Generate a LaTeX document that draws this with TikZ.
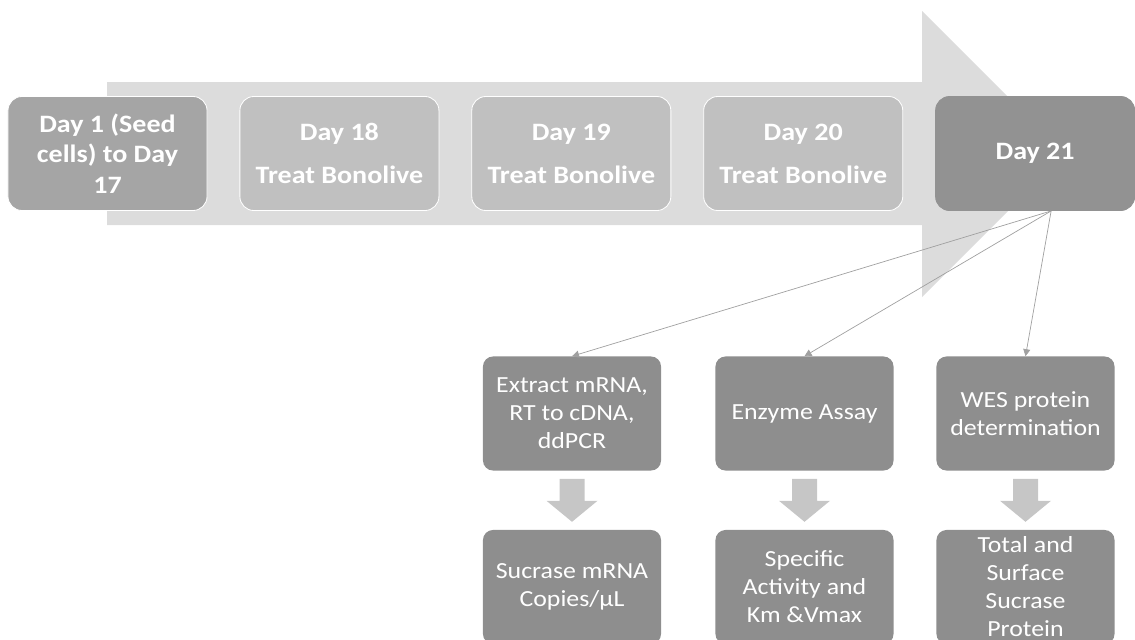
\documentclass[tikz,border=0pt]{standalone}
\usepackage{fontspec}
\setmainfont{Carlito}[FakeStretch=1.12]
\usepackage{xcolor}
\usepackage{tikz}
\usetikzlibrary{arrows.meta,positioning,calc}
\definecolor{bandgray}{HTML}{DCDCDC}
\definecolor{startgray}{HTML}{A5A5A5}
\definecolor{treatgray}{HTML}{C0C0C0}
\definecolor{endgray}{HTML}{929292}
\definecolor{taskgray}{HTML}{8E8E8E}
\definecolor{downgray}{HTML}{C6C6C6}
\definecolor{linkgray}{HTML}{A0A0A0}

\begin{document}
\begin{tikzpicture}[x=0.025cm,y=0.025cm,
  daybox/.style={rectangle,rounded corners=0.35cm,draw=white,line width=0.6pt,
    minimum width=4.975cm,minimum height=2.85cm,align=center,text=white,
    font=\fontsize{17.8}{21.7}\selectfont\bfseries},
  taskbox/.style={rectangle,rounded corners=0.25cm,fill=taskgray,
    minimum width=4.45cm,minimum height=2.85cm,align=center,text=white,
    font=\fontsize{16.4}{19.9}\selectfont},
  link/.style={draw=linkgray,line width=0.5pt,-{Triangle[length=5pt,width=5pt]}}
]
\useasboundingbox (0,0) rectangle (1135,-639);
\clip (0,0) rectangle (1135,-639);
% timeline band
\fill[bandgray] (107,-82) -- (922,-82) -- (922,-11) -- (1065,-154)
  -- (922,-297) -- (922,-225) -- (107,-225) -- cycle;
\node[daybox,fill=startgray] (d1) at (107.5,-153.5) {Day 1 (Seed\\cells) to Day\\17};
\node[daybox,fill=treatgray,right=0.8cm of d1] (d18) {Day 18\\[9pt]Treat Bonolive};
\node[daybox,fill=treatgray,right=0.8cm of d18] (d19) {Day 19\\[9pt]Treat Bonolive};
\node[daybox,fill=treatgray,right=0.8cm of d19] (d20) {Day 20\\[9pt]Treat Bonolive};
\node[daybox,fill=endgray,draw=endgray,right=0.8cm of d20] (d21) {Day 21};
% assays
\node[taskbox] (mrna) at (572,-413.5) {Extract mRNA,\\RT to cDNA,\\ddPCR};
\node[taskbox] (enz) at (804.5,-413.5) {Enzyme Assay};
\node[taskbox] (wes) at (1025.5,-413.5) {WES protein\\determination};
\node[taskbox] (copies) at (572,-587) {Sucrase mRNA\\Copies/µL};
\node[taskbox] (activity) at (804.5,-587) {Specific\\Activity and\\Km \&Vmax};
\node[taskbox] (protein) at (1025.5,-587) {Total and\\Surface\\Sucrase\\Protein};
\coordinate (fork) at ([xshift=0.4cm]d21.south);
\draw[link] (fork) -- (mrna.north);
\draw[link] (fork) -- (enz.north);
\draw[link] (fork) -- (wes.north);
% down arrows
\foreach \a in {mrna,enz,wes}{
  \fill[downgray] ($(\a.south)+(-12.5,-8)$) -- ($(\a.south)+(12.5,-8)$)
    -- ($(\a.south)+(12.5,-30)$) -- ($(\a.south)+(25.5,-30)$)
    -- ($(\a.south)+(0,-51)$) -- ($(\a.south)+(-25.5,-30)$)
    -- ($(\a.south)+(-12.5,-30)$) -- cycle;
}
\end{tikzpicture}
\end{document}
